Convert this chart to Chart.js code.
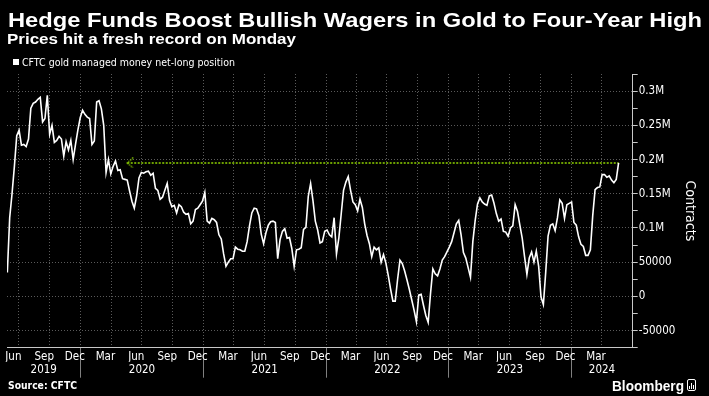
<!DOCTYPE html>
<html>
<head>
<meta charset="utf-8">
<script src="https://cdn.jsdelivr.net/npm/chart.js@4.4.1/dist/chart.umd.min.js"></script>
<style>
  html, body { margin: 0; padding: 0; background: #000; }
  #wrap { position: relative; width: 709px; height: 396px; overflow: hidden; background: #000; }
  #chart { position: absolute; left: 0; top: 0; }
  .txt { position: absolute; color: #fff; white-space: nowrap; line-height: 1; transform-origin: 0 0; }
  #title { left: 8px; top: 8px; font: bold 21px 'Liberation Sans', Arial, sans-serif; }
  #subtitle { left: 7px; top: 31px; font: bold 14.5px 'Liberation Sans', Arial, sans-serif; }
  #legend { left: 22px; top: 56px; font: 10.5px 'DejaVu Sans Condensed', 'DejaVu Sans', sans-serif; }
  #legendBox { position: absolute; left: 13px; top: 59px; width: 6px; height: 6px; background: #fff; }
  #source { left: 8px; top: 380px; font: bold 10px 'DejaVu Sans', sans-serif; }
  #brand { left: 612px; top: 378px; font: bold 14px 'Liberation Sans', Arial, sans-serif; }
  #brandIcon { position: absolute; left: 687px; top: 379px; width: 7px; height: 10px;
               border: 1px solid #fff; border-radius: 2px; background: #000; }
  #brandIcon i { position: absolute; bottom: 1px; width: 1px; background: #fff; }
</style>
</head>
<body>
<div id="wrap">
  <canvas id="chart" width="709" height="396"></canvas>
  <div class="txt" id="title" data-w="694">Hedge Funds Boost Bullish Wagers in Gold to Four-Year High</div>
  <div class="txt" id="subtitle" data-w="289">Prices hit a fresh record on Monday</div>
  <div id="legendBox"></div>
  <div class="txt" id="legend" data-w="213">CFTC gold managed money net-long position</div>
  <div class="txt" id="source" data-w="69">Source: CFTC</div>
  <div class="txt" id="brand" data-w="72">Bloomberg</div>
  <div id="brandIcon"><i style="left:1px;height:3px"></i><i style="left:3px;height:6px"></i><i style="left:5px;height:4px"></i></div>
</div>

<script>
// ─────────────────────────────────────────────────────────────────────────
// CFTC gold managed money net-long position (weekly, thousands of contracts)
// ─────────────────────────────────────────────────────────────────────────
(function () {
    'use strict';

    /* ── Data ────────────────────────────────────────────────────────────── */
    const firstWeek = '2019-05-28';   // Tuesday report dates, one week apart

    const netLongThousands = [
        35, 115, 150, 190, 235, 243, 221, 222, 219, 230,
        275, 282, 284, 288, 291, 255, 260, 294, 237, 250,
        225, 228, 234, 230, 205, 226, 214, 228, 200, 222,
        243, 261, 272, 266, 262, 260, 222, 227, 284, 286,
        274, 250, 181, 200, 179, 190, 198, 184, 185, 172,
        171, 170, 154, 139, 129, 147, 173, 181, 180, 182,
        183, 177, 180, 158, 155, 142, 145, 155, 165, 140,
        131, 133, 122, 134, 131, 123, 120, 121, 106, 110,
        127, 129, 134, 139, 152, 110, 107, 114, 112, 108,
        90, 84, 62, 44, 50, 55, 55, 72, 69, 68,
        66, 66, 80, 103, 122, 129, 128, 118, 91, 77,
        93, 104, 109, 110, 108, 55, 83, 95, 99, 85,
        86, 70, 44, 68, 69, 71, 98, 101, 146, 165,
        140, 110, 97, 78, 80, 95, 97, 90, 87, 115,
        62, 85, 120, 155, 167, 175, 155, 138, 134, 125,
        142, 130, 106, 89, 77, 58, 72, 68, 71, 50,
        61, 49, 31, 11, -7, -7, 25, 53, 48, 37,
        24, 10, -5, -20, -37, 2, 3, -13, -28, -38,
        4, 40, 33, 30, 40, 53, 58, 65, 72, 80,
        93, 106, 111, 90, 64, 56, 42, 28, 80, 111,
        135, 144, 138, 135, 133, 147, 148, 136, 121, 110,
        113, 95, 94, 88, 100, 103, 134, 124, 104, 85,
        58, 32, 56, 65, 50, 66, 44, -1, -12, 35,
        88, 104, 106, 96, 115, 141, 136, 114, 134, 136,
        138, 108, 104, 87, 76, 73, 60, 60, 68, 118,
        156, 159, 160, 178, 178, 174, 176, 170, 166, 171,
        195
    ];

    // green arrow: current level pointing back to when it was last this high
    const arrowFrom = '2020-05-19';
    const arrowTo = '2024-05-21';
    const arrowLevel = 195000;

    const xRange = ['2019-05-27', '2024-07-02'];

    const monthTicks = [
        '2019-06', '2019-09', '2019-12', '2020-03', '2020-06', '2020-09', '2020-12',
        '2021-03', '2021-06', '2021-09', '2021-12', '2022-03', '2022-06', '2022-09',
        '2022-12', '2023-03', '2023-06', '2023-09', '2023-12', '2024-03'
    ];
    const monthNames = ['Jan', 'Feb', 'Mar', 'Apr', 'May', 'Jun',
                        'Jul', 'Aug', 'Sep', 'Oct', 'Nov', 'Dec'];
    const yearTicks = [2019, 2020, 2021, 2022, 2023, 2024];

    const yTicks = [-50000, 0, 50000, 100000, 150000, 200000, 250000, 300000];
    const yTickLabels = ['-50000', '0', '50000', '0.1M', '0.15M', '0.2M', '0.25M', '0.3M'];
    const yRange = [-75000, 325000];

    /* ── Style ───────────────────────────────────────────────────────────── */
    const COLORS = {
        line: '#ffffff',
        arrow: '#8fd400',
        grid: '#5a5a5a',
        axis: '#c8c8c8',
        yearSep: '#808080',
        text: '#ffffff'
    };
    const TICK_FONT = { family: "'DejaVu Sans Condensed', 'DejaVu Sans', sans-serif", size: 11.5 };
    const DAY = 86400000;

    const ms = (s) => {
        const p = s.split('-').map(Number);
        return Date.UTC(p[0], p[1] - 1, p[2] || 1);
    };

    /* ── Derived chart data ──────────────────────────────────────────────── */
    const start = ms(firstWeek);
    const netLongPoints = netLongThousands.map((v, i) => ({ x: start + i * 7 * DAY, y: v * 1000 }));
    const arrowPoints = [{ x: ms(arrowFrom), y: arrowLevel }, { x: ms(arrowTo), y: arrowLevel }];

    const X_MIN = ms(xRange[0]);
    const X_MAX = ms(xRange[1]);

    // quarter boundaries for the vertical grid
    const quarterStarts = [];
    for (let y = 2019; y <= 2024; y++) {
        [0, 3, 6, 9].forEach(m => {
            const t = Date.UTC(y, m, 1);
            if (t > X_MIN && t < X_MAX) quarterStarts.push(t);
        });
    }
    const isJan1 = (t) => new Date(t).getUTCMonth() === 0;

    const monthTickValues = monthTicks.map(s => ms(s) + 14 * DAY);
    const yearTickValues = yearTicks.map(y => {
        const a = Math.max(Date.UTC(y, 0, 1), X_MIN);
        const b = Math.min(Date.UTC(y + 1, 0, 1), X_MAX);
        return (a + b) / 2;
    });

    const yAllTicks = [];
    for (let v = yRange[0]; v <= yRange[1]; v += 25000) yAllTicks.push(v);

    /* ── Arrow head as a point style ─────────────────────────────────────── */
    const chevron = document.createElement('canvas');
    chevron.width = 14;
    chevron.height = 11;
    (function () {
        const c = chevron.getContext('2d');
        c.strokeStyle = COLORS.arrow;
        c.lineWidth = 1.3;
        c.setLineDash([1.5, 1]);
        c.beginPath();
        c.moveTo(13, 0.5);
        c.lineTo(7, 5.5);
        c.lineTo(13, 10.5);
        c.stroke();
    })();

    /* ── Chart ───────────────────────────────────────────────────────────── */
    new Chart(document.getElementById('chart').getContext('2d'), {
        type: 'line',
        data: {
            datasets: [
                {
                    data: netLongPoints,
                    borderColor: COLORS.line,
                    borderWidth: 1.6,
                    pointRadius: 0,
                    tension: 0
                },
                {
                    data: arrowPoints,
                    borderColor: COLORS.arrow,
                    borderWidth: 1.5,
                    borderDash: [2, 1.5],
                    pointRadius: [3, 0],
                    pointStyle: chevron,
                    tension: 0
                }
            ]
        },
        options: {
            responsive: false,
            animation: false,
            devicePixelRatio: 1,
            layout: { padding: { top: 74, left: 7, right: 0, bottom: 0 } },
            plugins: {
                legend: { display: false },
                tooltip: { enabled: false }
            },
            scales: {
                x: {
                    type: 'linear',
                    position: 'bottom',
                    weight: 0,
                    min: X_MIN,
                    max: X_MAX,
                    afterBuildTicks: (s) => { s.ticks = quarterStarts.map(v => ({ value: v })); },
                    afterFit: (s) => { s.height = 0; },
                    ticks: { display: false },
                    grid: {
                        color: COLORS.grid,
                        lineWidth: 1,
                        drawTicks: true,
                        tickLength: 30,
                        tickWidth: 1,
                        tickColor: (c) => (c.tick && isJan1(c.tick.value)) ? COLORS.yearSep : 'rgba(0,0,0,0)'
                    },
                    border: { display: true, color: COLORS.axis, width: 1, dash: [1, 2] }
                },
                xMonth: {
                    type: 'linear',
                    position: 'bottom',
                    weight: 1,
                    min: X_MIN,
                    max: X_MAX,
                    afterBuildTicks: (s) => { s.ticks = monthTickValues.map(v => ({ value: v })); },
                    afterFit: (s) => { s.height = 14; },
                    ticks: {
                        color: COLORS.text,
                        font: TICK_FONT,
                        padding: 2,
                        autoSkip: false,
                        maxRotation: 0,
                        callback: (v, i) => monthNames[Number(monthTicks[i].split('-')[1]) - 1]
                    },
                    grid: { display: false, drawTicks: false },
                    border: { display: false }
                },
                xYear: {
                    type: 'linear',
                    position: 'bottom',
                    weight: 2,
                    min: X_MIN,
                    max: X_MAX,
                    afterBuildTicks: (s) => { s.ticks = yearTickValues.map(v => ({ value: v })); },
                    afterFit: (s) => { s.height = 34.3; },
                    ticks: {
                        color: COLORS.text,
                        font: TICK_FONT,
                        padding: 1,
                        autoSkip: false,
                        maxRotation: 0,
                        callback: (v, i) => String(yearTicks[i])
                    },
                    grid: { display: false, drawTicks: false },
                    border: { display: false }
                },
                y: {
                    position: 'right',
                    min: yRange[0],
                    max: yRange[1],
                    afterBuildTicks: (s) => { s.ticks = yAllTicks.map(v => ({ value: v })); },
                    afterFit: (s) => { s.width = 76.3; },
                    ticks: {
                        color: COLORS.text,
                        font: TICK_FONT,
                        padding: 1,
                        autoSkip: false,
                        callback: (v) => {
                            const i = yTicks.indexOf(v);
                            return i >= 0 ? yTickLabels[i] : '';
                        }
                    },
                    grid: {
                        color: (c) => (c.tick && yTicks.includes(c.tick.value)) ? COLORS.grid : 'rgba(0,0,0,0)',
                        lineWidth: 1,
                        drawTicks: true,
                        tickLength: 5,
                        tickColor: COLORS.axis
                    },
                    border: { display: true, color: COLORS.axis, width: 1, dash: [1, 2] },
                    title: {
                        display: true,
                        text: 'Contracts',
                        color: COLORS.text,
                        font: { family: "'DejaVu Sans Condensed', 'DejaVu Sans', sans-serif", size: 14 },
                        padding: { top: 10.6, bottom: 0 }
                    }
                }
            }
        }
    });

    /* ── Fit the HTML captions to the reference widths ───────────────────── */
    document.querySelectorAll('.txt[data-w]').forEach(el => {
        const w = el.getBoundingClientRect().width;
        const target = Number(el.dataset.w);
        if (w > 0) el.style.transform = 'scaleX(' + (target / w) + ')';
    });
})();
</script>
</body>
</html>
